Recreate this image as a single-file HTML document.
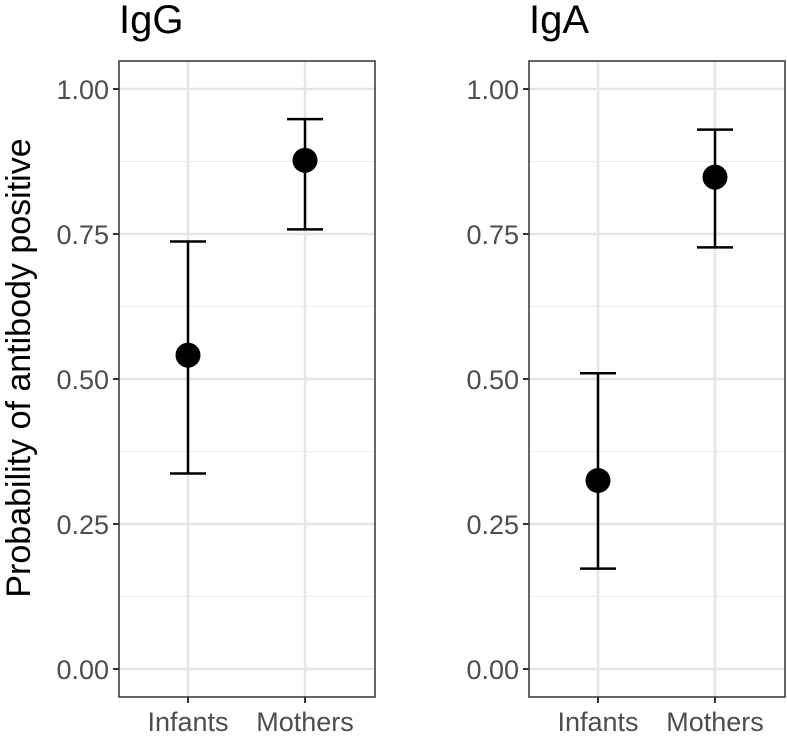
<!DOCTYPE html>
<html><head><meta charset="utf-8"><style>
body{margin:0;background:#fff;}
svg text{font-family:"Liberation Sans",Arial,sans-serif;}
</style></head><body>
<svg id="chart" width="787" height="738" xmlns="http://www.w3.org/2000/svg"></svg>
<script>
const categories = ["Infants","Mothers"];
const panels = ["IgG","IgA"];
const estimates = [[0.541,0.877],[0.325,0.848]];
const lowers = [[0.337,0.758],[0.173,0.727]];
const uppers = [[0.737,0.948],[0.510,0.930]];
const yTicks = [0,0.25,0.5,0.75,1.0];
const yTickLabels = ["0.00","0.25","0.50","0.75","1.00"];
const minorTicks = [0.125,0.375,0.625,0.875];

const NS="http://www.w3.org/2000/svg";
const svg=document.getElementById('chart');
function mk(t,a,p){const e=document.createElementNS(NS,t);for(const k in a)e.setAttribute(k,a[k]);(p||svg).appendChild(e);return e;}
const plotTop=61,plotBottom=697;
function yScale(v){return 669-v*(669-89);}
const lefts=[119,529],panelW=256;
const catOff=[69,186];
panels.forEach((name,pi)=>{
  const L=lefts[pi];
  const g=mk('g',{});
  
  
  const xScale=i=>L+catOff[i];
  minorTicks.forEach(v=>{
    const l=mk('line',{x1:L,x2:L+panelW,y1:yScale(v),y2:yScale(v),stroke:'#efefef','stroke-width':1.2},g);
    
    
  });
  yTicks.forEach((v,i)=>{
    const l=mk('line',{x1:L,x2:L+panelW,y1:yScale(v),y2:yScale(v),stroke:'#e6e6e6','stroke-width':2.5},g);
    
    
    mk('line',{x1:L-6,x2:L,y1:yScale(v),y2:yScale(v),stroke:'#333','stroke-width':2},g);
    const t=mk('text',{x:L-10,y:yScale(v)+10,'text-anchor':'end','font-size':27,fill:'#4d4d4d'},g);
    t.textContent=yTickLabels[i];
    
    
  });
  categories.forEach((c,i)=>{
    const l=mk('line',{x1:xScale(i),x2:xScale(i),y1:plotTop,y2:plotBottom,stroke:'#e6e6e6','stroke-width':2.5},g);
    
    
    mk('line',{x1:xScale(i),x2:xScale(i),y1:plotBottom,y2:plotBottom+6,stroke:'#333','stroke-width':2},g);
    const t=mk('text',{x:xScale(i),y:plotBottom+34,'text-anchor':'middle','font-size':27,fill:'#4d4d4d'},g);
    t.textContent=c;
    
    
  });
  const b=mk('rect',{x:L,y:plotTop,width:panelW,height:plotBottom-plotTop,fill:'none',stroke:'#333','stroke-width':1.5},g);
  
  
  categories.forEach((c,i)=>{
    const e=mk('g',{},g);
    
    
    mk('line',{x1:xScale(i),x2:xScale(i),y1:yScale(lowers[pi][i]),y2:yScale(uppers[pi][i]),stroke:'#000','stroke-width':2.5},e);
    mk('line',{x1:xScale(i)-18,x2:xScale(i)+18,y1:yScale(lowers[pi][i]),y2:yScale(lowers[pi][i]),stroke:'#000','stroke-width':2.5},e);
    mk('line',{x1:xScale(i)-18,x2:xScale(i)+18,y1:yScale(uppers[pi][i]),y2:yScale(uppers[pi][i]),stroke:'#000','stroke-width':2.5},e);
    const p=mk('circle',{cx:xScale(i),cy:yScale(estimates[pi][i]),r:12.5,fill:'#000'},g);
    
    
  });
  const tt=mk('text',{x:L,y:33,'font-size':40,fill:'#000'},g);
  tt.textContent=name;
  
  
});
const yt=mk('text',{x:0,y:0,'font-size':34,fill:'#000','text-anchor':'middle',transform:'translate(30,368) rotate(-90)'});
yt.textContent='Probability of antibody positive';


</script>
</body></html>
